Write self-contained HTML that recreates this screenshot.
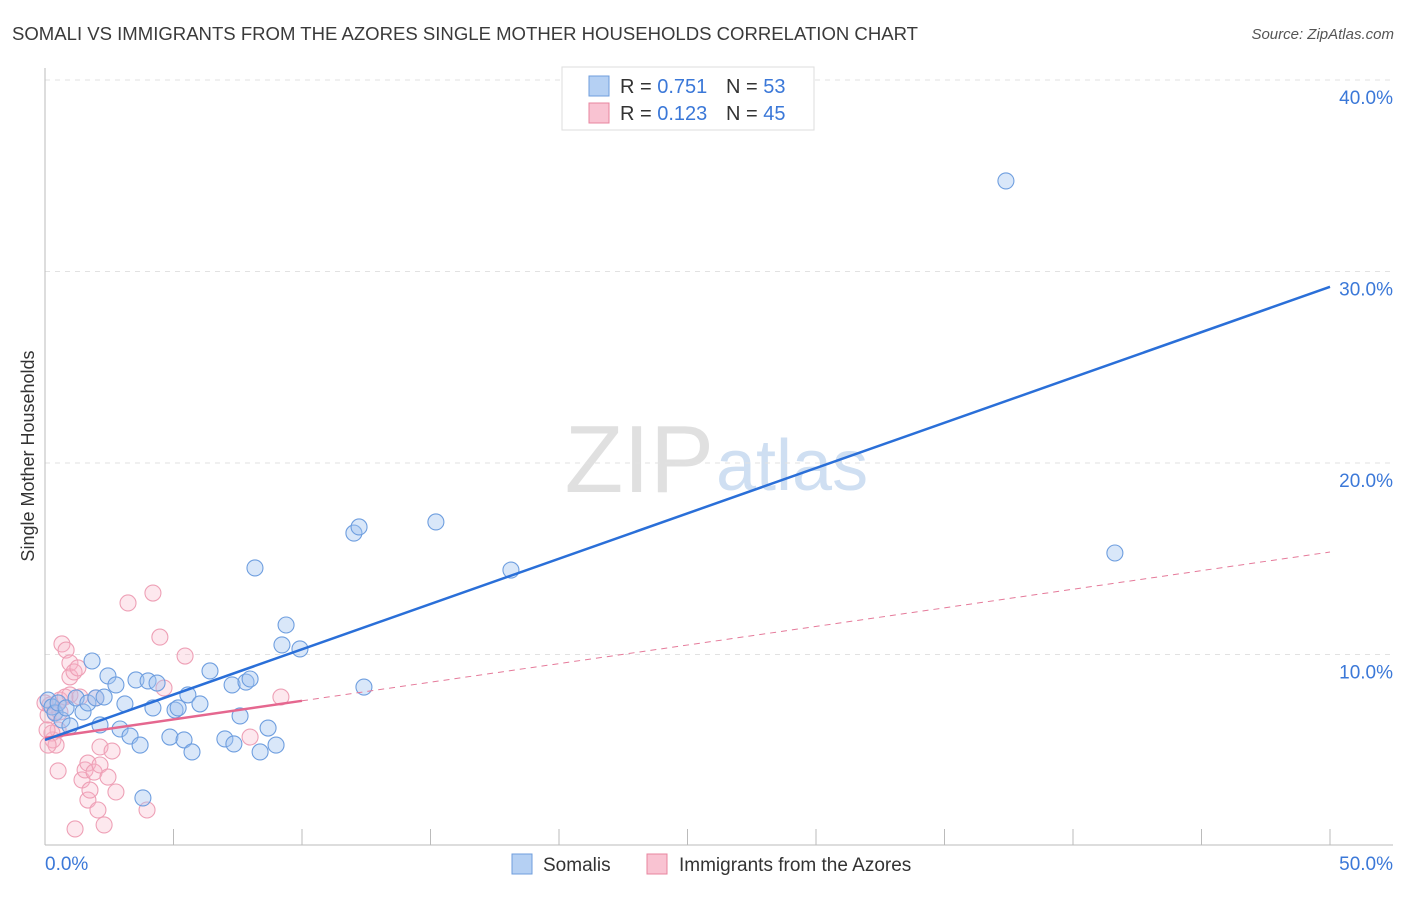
<!DOCTYPE html>
<html><head><meta charset="utf-8"><style>
body{margin:0;background:#fff;font-family:"Liberation Sans",sans-serif;}
svg text{font-family:"Liberation Sans",sans-serif;}
</style></head><body>
<svg id="chart" width="1406" height="892" xmlns="http://www.w3.org/2000/svg">
<text x="12" y="40" font-size="18" fill="#3a3a3a" textLength="906" lengthAdjust="spacingAndGlyphs">SOMALI VS IMMIGRANTS FROM THE AZORES SINGLE MOTHER HOUSEHOLDS CORRELATION CHART</text>
<text x="1394" y="39" font-size="15" fill="#555" font-style="italic" text-anchor="end">Source: ZipAtlas.com</text>
<text x="714" y="492" font-size="96" fill="#e0e0e0" text-anchor="end" font-family="Liberation Serif">ZIP</text>
<text x="716" y="490" font-size="72" fill="#cfdff2">atlas</text>
<text transform="translate(34,456) rotate(-90)" font-size="18" fill="#333" text-anchor="middle">Single Mother Households</text>
<g id="grid"></g><g id="axes"></g><g id="marks"></g>
<rect x="562" y="67" width="252" height="63" fill="#fff" stroke="#ddd"/>
<rect x="589" y="76" width="20" height="20" fill="#b5d0f3" stroke="#6f9edc"/>
<rect x="589" y="103" width="20" height="20" fill="#f9c3d2" stroke="#e8849f"/>
<text x="620" y="93" font-size="20" fill="#333">R = <tspan fill="#3b78d8">0.751</tspan></text>
<text x="726" y="93" font-size="20" fill="#333">N = <tspan fill="#3b78d8">53</tspan></text>
<text x="620" y="120" font-size="20" fill="#333">R = <tspan fill="#3b78d8">0.123</tspan></text>
<text x="726" y="120" font-size="20" fill="#333">N = <tspan fill="#3b78d8">45</tspan></text>
<rect x="512" y="854" width="20" height="20" fill="#b5d0f3" stroke="#6f9edc"/>
<text x="543" y="871" font-size="19" fill="#333">Somalis</text>
<rect x="647" y="854" width="20" height="20" fill="#f9c3d2" stroke="#e8849f"/>
<text x="679" y="871" font-size="19" fill="#333">Immigrants from the Azores</text>
</svg>
<script>
const yTicks=[10,20,30,40];
const yTickLabels=["10.0%","20.0%","30.0%","40.0%"];
const xTickLabels=["0.0%","50.0%"];
const blueX=[0.12,0.27,0.39,0.51,0.66,0.82,0.97,1.21,1.48,1.67,1.83,1.98,2.14,2.45,2.30,2.76,2.92,3.11,3.31,3.54,3.70,4.01,4.20,4.36,4.86,5.06,5.18,5.41,5.56,5.72,6.03,6.42,7.00,7.28,7.35,7.59,7.82,7.98,8.17,8.37,8.68,8.99,9.22,9.38,9.92,12.02,12.22,12.41,15.21,18.13,37.39,41.63,3.81];
const blueY=[7.62,7.26,6.95,7.47,6.58,7.21,6.27,7.73,7.00,7.47,9.66,7.73,6.32,8.88,7.78,8.41,6.11,7.42,5.74,8.67,5.27,8.62,7.21,8.51,5.69,7.10,7.21,5.54,7.89,4.91,7.42,9.14,5.59,8.41,5.33,6.79,8.56,8.72,14.52,4.91,6.16,5.27,10.50,11.54,10.29,16.34,16.66,8.30,16.92,14.41,34.73,15.30,2.51];
const pinkX=[0.12,0.19,0.31,0.39,0.51,0.58,0.66,0.82,0.51,0.97,0.97,1.13,1.28,1.17,1.44,1.56,1.67,1.67,1.75,1.91,2.06,2.14,2.14,2.30,2.45,2.61,2.76,3.23,3.97,4.20,4.47,4.63,5.45,7.98,9.18,0.78,0.97,0.27,0.43,0.12,1.98,1.36,0.58,0.00,0.08];
const pinkY=[6.84,7.36,5.54,7.00,6.06,7.62,10.55,10.23,3.92,9.56,8.83,9.09,9.30,0.89,3.45,3.97,2.40,4.33,2.92,3.86,1.88,5.17,4.23,1.10,3.60,4.96,2.82,12.69,1.88,13.21,10.91,8.25,9.92,5.69,7.78,7.78,7.89,5.90,5.27,5.27,7.73,7.78,7.00,7.47,6.06];
const blueFit=[5.54,29.2];
const pinkFit=[5.64,15.35];
const X=v=>45+v*25.7, Y=v=>846-v*19.15;
const NS="http://www.w3.org/2000/svg";
function mk(tag,attrs,parent){const e=document.createElementNS(NS,tag);for(const k in attrs)e.setAttribute(k,attrs[k]);document.getElementById(parent).appendChild(e);return e;}
yTicks.forEach((t,i)=>{
 const g=mk('line',{x1:45,x2:1393,y1:Y(t),y2:Y(t),stroke:'#e2e2e2','stroke-dasharray':'5,5'},'grid');
 
 
 const l=mk('text',{x:1393,y:Y(t)+24,'font-size':19,fill:'#3b78d8','text-anchor':'end'},'axes');
 l.textContent=yTickLabels[i];
 
 
});
const ax=mk('line',{x1:45,x2:45,y1:68,y2:845,stroke:'#bbb'},'axes');


const bx=mk('line',{x1:45,x2:1393,y1:845,y2:845,stroke:'#bbb'},'axes');


for(let i=0;i<=10;i++){
 const t=mk('line',{x1:X(i*5),x2:X(i*5),y1:829,y2:845,stroke:'#bbb'},'axes');
 
 
}
[[0,'start',45],[50,'end',1393]].forEach((d,i)=>{
 const l=mk('text',{x:d[2],y:870,'font-size':19,fill:'#3b78d8','text-anchor':d[1]},'axes');
 l.textContent=xTickLabels[i];
 
 
});
pinkX.forEach((x,i)=>{
 const c=mk('circle',{cx:X(x),cy:Y(pinkY[i]),r:8,fill:'rgba(248,180,200,0.3)',stroke:'#eea0b6','stroke-width':1.1},'marks');
 
 
});
blueX.forEach((x,i)=>{
 const c=mk('circle',{cx:X(x),cy:Y(blueY[i]),r:8,fill:'rgba(160,195,240,0.4)',stroke:'#6e9edf','stroke-width':1.1},'marks');
 
 
});
const pf=v=>pinkFit[0]+(pinkFit[1]-pinkFit[0])*v/50;
const pd=mk('line',{x1:X(10),y1:Y(pf(10)),x2:X(50),y2:Y(pf(50)),stroke:'#e57a9a','stroke-width':1,'stroke-dasharray':'6,5'},'marks');


const ps=mk('line',{x1:X(0),y1:Y(pf(0)),x2:X(10),y2:Y(pf(10)),stroke:'#e5678f','stroke-width':2.5},'marks');


const bl=mk('line',{x1:X(0),y1:Y(blueFit[0]),x2:X(50),y2:Y(blueFit[1]),stroke:'#2a6fd8','stroke-width':2.5},'marks');


</script>
</body></html>
